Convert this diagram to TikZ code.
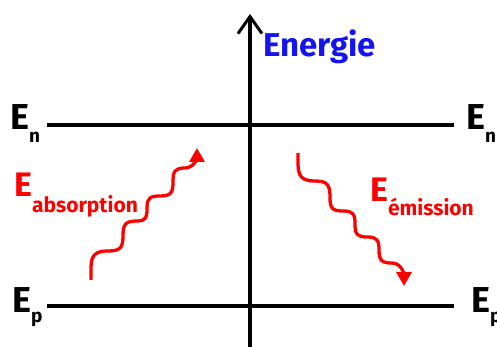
\documentclass[tikz,border=0pt]{standalone}
\usepackage{fontspec}
\setmainfont{Fira Sans}
\usetikzlibrary{arrows.meta}
\definecolor{wavered}{RGB}{255,0,0}
\definecolor{energyblue}{RGB}{20,20,240}
\newcommand{\bigE}[3]{{\fontsize{36}{36}\selectfont\bfseries E}\kern#3\raisebox{#2}{\fontsize{19}{19}\selectfont\bfseries #1}}
\begin{document}
\begin{tikzpicture}[x=1pt,y=1pt,
  level/.style={line width=3.5pt},
  axisline/.style={line width=3.5pt,-{Straight Barb[length=17pt,width=24pt,line width=3pt]}},
  wave/.style={line width=3.3pt,draw=wavered,-{Triangle[length=14pt,width=15pt]},wavered,looseness=1.45},
  lbl/.style={inner sep=0pt,anchor=base west},
]
\useasboundingbox (0,0) rectangle (497,347);
% axis
\coordinate (axb) at (250,0);
\coordinate (axt) at (250,333);
\draw[axisline] (axb) -- (axt);
% levels
\coordinate (enl) at (47,222);
\coordinate (enr) at (454,222);
\coordinate (epl) at (47,41);
\coordinate (epr) at (454,41);
\draw[level] (enl) -- (enr);
\draw[level] (epl) -- (epr);
% labels
\node[lbl,text=energyblue] (energie) at (263,290) {\fontsize{33}{33}\selectfont\bfseries Energie};
\node[lbl] (enleft) at (10,217) {\bigE{n}{-13pt}{0pt}};
\node[lbl] (enright) at (466,217) {\bigE{n}{-13pt}{0pt}};
\node[lbl] (epleft) at (12,34) {\bigE{p}{-10pt}{0pt}};
\node[lbl] (epright) at (471,34) {\bigE{p}{-10pt}{0pt}};
\node[lbl,text=wavered] (eabs) at (14,150) {{\fontsize{34}{34}\selectfont\bfseries E}\kern0pt\raisebox{-16pt}{\fontsize{21}{21}\selectfont\bfseries absorption}};
\node[lbl,text=wavered] (eemi) at (370,145) {{\fontsize{34}{34}\selectfont\bfseries E}\kern0pt\raisebox{-14pt}{\fontsize{21}{21}\selectfont\bfseries émission}};
% absorption wave
\coordinate (a0) at (91,67);
\coordinate (a1) at (108,96);
\coordinate (a2) at (123,111);
\coordinate (a3) at (137,126);
\coordinate (a4) at (147,139);
\coordinate (a5) at (160,151);
\coordinate (a6) at (173,165);
\coordinate (a7) at (185,179);
\coordinate (a8) at (197,199);
\draw[wave] (a0) to[out=90,in=180] (a1) to[out=0,in=-90] (a2) to[out=90,in=180] (a3)
  to[out=0,in=-90] (a4) to[out=90,in=180] (a5) to[out=0,in=-90] (a6)
  to[out=90,in=180] (a7) to[out=0,in=-90,looseness=1] (a8);
% emission wave
\coordinate (e0) at (298,194);
\coordinate (e1) at (315,166);
\coordinate (e2) at (330,149);
\coordinate (e3) at (343,136);
\coordinate (e4) at (355,123);
\coordinate (e5) at (367,110);
\coordinate (e6) at (379,97);
\coordinate (e7) at (392,84);
\coordinate (e8) at (404,61);
\draw[wave] (e0) to[out=-90,in=180] (e1) to[out=0,in=90] (e2) to[out=-90,in=180] (e3)
  to[out=0,in=90] (e4) to[out=-90,in=180] (e5) to[out=0,in=90] (e6)
  to[out=-90,in=180] (e7) to[out=0,in=90,looseness=1] (e8);
\end{tikzpicture}
\end{document}
